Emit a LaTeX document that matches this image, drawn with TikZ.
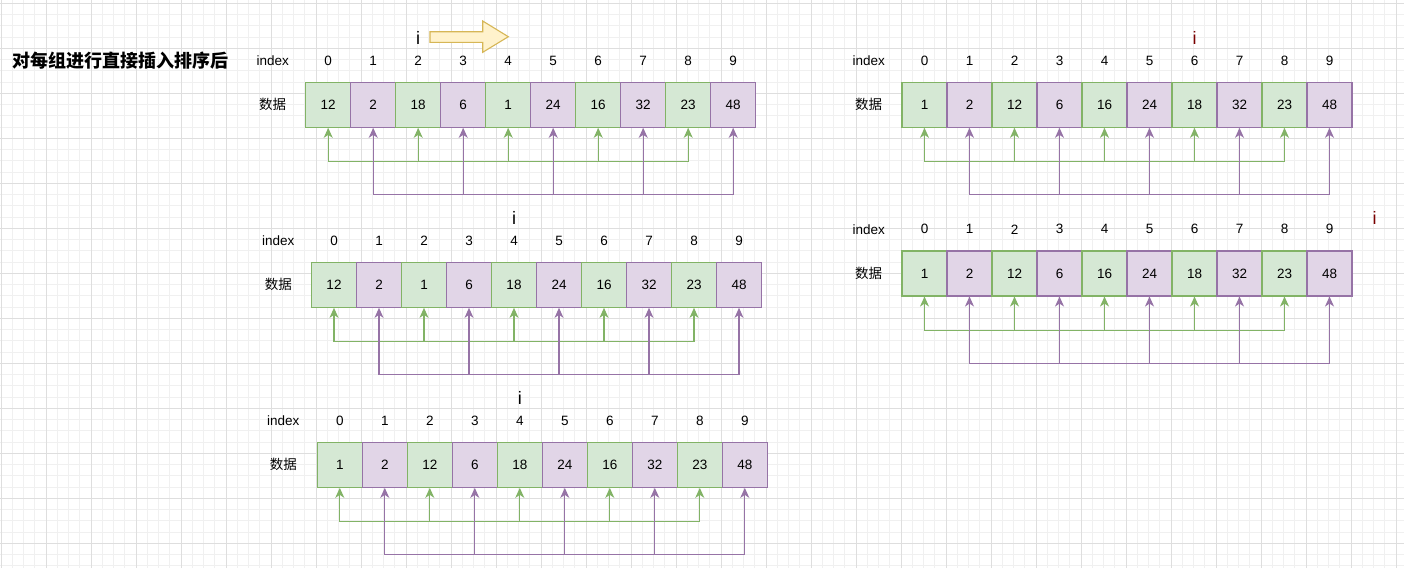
\documentclass[tikz,border=0pt]{standalone}
\usepackage{fontspec}
\setmainfont{Liberation Sans}
\newfontfamily\cjk{Noto Sans CJK SC}
\usetikzlibrary{arrows.meta}
\definecolor{gfill}{HTML}{D5E8D4}
\definecolor{gdraw}{HTML}{82B366}
\definecolor{pfill}{HTML}{E1D5E7}
\definecolor{pdraw}{HTML}{9673A6}
\definecolor{yfill}{HTML}{FFF2CC}
\definecolor{ydraw}{HTML}{D6B656}
\definecolor{imark}{HTML}{7A0000}
\tikzset{
  cell0/.style={rectangle,draw=gdraw,fill=gfill,line width=1.1pt,minimum size=45pt,inner sep=0pt,font=\fontsize{13.5}{16}\selectfont},
  cell1/.style={cell0,draw=pdraw,fill=pfill},
  lbl/.style={inner sep=0pt,font=\fontsize{13.5}{16}\selectfont},
  cjklbl/.style={inner sep=0pt,font=\cjk\fontsize{13.5}{16}\selectfont},
  ilbl/.style={inner sep=0pt,font=\fontsize{18}{20}\selectfont},
  garrow/.style={draw=gdraw,line width=1.1pt,-{Stealth[length=10pt,width=9pt,inset=3pt]}},
  parrow/.style={garrow,draw=pdraw},
  gline/.style={draw=gdraw,line width=1.1pt,line cap=rect},
  pline/.style={gline,draw=pdraw},
  minorgrid/.style={draw=black!6,line width=0.8pt},
  majorgrid/.style={draw=black!13,line width=0.8pt},
  bigarrow/.style={draw=ydraw,fill=yfill,line width=1.1pt}
}

\begin{document}
\begin{tikzpicture}[x=1pt,y=-1pt]
\useasboundingbox[fill=white] (0,0) rectangle (1404,568);
% background grid
\foreach \n in {0,...,124} \draw[minorgrid] (1+11.25*\n,0) -- (1+11.25*\n,568);
\foreach \n in {0,...,50} \draw[minorgrid] (0,3.3+11.25*\n) -- (1404,3.3+11.25*\n);
\foreach \n in {0,...,31} \draw[majorgrid] (1+45*\n,0) -- (1+45*\n,568);
\foreach \n in {0,...,12} \draw[majorgrid] (0,3.3+45*\n) -- (1404,3.3+45*\n);

\node[anchor=west,inner sep=0pt,font=\cjk\bfseries\fontsize{18}{20}\selectfont] (title) at (12.7,60.7) {对每组进行直接插入排序后};

% row 1
\node[lbl] (r1index) at (272.7,60.7) {index};
\node[cjklbl] (r1data) at (272.7,104.8) {数据};
\foreach \v [count=\k from 0] in {12,2,18,6,1,24,16,32,23,48} {
  \pgfmathtruncatemacro\p{mod(\k,2)}
  \node[cell\p] (r1c\k) at (328.2+45*\k,104.8) {\v};
  \node[lbl] (r1n\k) at (328.2+45*\k,60.7) {\k};
}
\node[ilbl] (r1i) at (418.2,38) {i};
\draw[bigarrow] (430,31.7) -- (482.7,31.7) -- (482.7,21) -- (508.3,36.7)
  -- (482.7,52.3) -- (482.7,42.3) -- (430,42.3) -- cycle;
\draw[gline] ([yshift=-33.7pt]r1c0.south) -- ([yshift=-33.7pt]r1c8.south);
\foreach \k in {0,2,...,8} \draw[garrow] ([yshift=-33.7pt]r1c\k.south) -- (r1c\k.south);
\draw[pline] ([yshift=-67pt]r1c1.south) -- ([yshift=-67pt]r1c9.south);
\foreach \k in {1,3,...,9} \draw[parrow] ([yshift=-67pt]r1c\k.south) -- (r1c\k.south);

% row 2
\node[lbl] (r2index) at (278.3,240.7) {index};
\node[cjklbl] (r2data) at (278.3,284.8) {数据};
\foreach \v [count=\k from 0] in {12,2,1,6,18,24,16,32,23,48} {
  \pgfmathtruncatemacro\p{mod(\k,2)}
  \node[cell\p] (r2c\k) at (334+45*\k,284.8) {\v};
  \node[lbl] (r2n\k) at (334+45*\k,240.7) {\k};
}
\node[ilbl] (r2i) at (514,218.3) {i};
\draw[gline] ([yshift=-33.7pt]r2c0.south) -- ([yshift=-33.7pt]r2c8.south);
\foreach \k in {0,2,...,8} \draw[garrow] ([yshift=-33.7pt]r2c\k.south) -- (r2c\k.south);
\draw[pline] ([yshift=-67pt]r2c1.south) -- ([yshift=-67pt]r2c9.south);
\foreach \k in {1,3,...,9} \draw[parrow] ([yshift=-67pt]r2c\k.south) -- (r2c\k.south);

% row 3
\node[lbl] (r3index) at (283.3,420.7) {index};
\node[cjklbl] (r3data) at (283.3,464.8) {数据};
\foreach \v [count=\k from 0] in {1,2,12,6,18,24,16,32,23,48} {
  \pgfmathtruncatemacro\p{mod(\k,2)}
  \node[cell\p] (r3c\k) at (339.8+45*\k,464.8) {\v};
  \node[lbl] (r3n\k) at (339.8+45*\k,420.7) {\k};
}
\node[ilbl] (r3i) at (519.8,398.3) {i};
\draw[gline] ([yshift=-33.7pt]r3c0.south) -- ([yshift=-33.7pt]r3c8.south);
\foreach \k in {0,2,...,8} \draw[garrow] ([yshift=-33.7pt]r3c\k.south) -- (r3c\k.south);
\draw[pline] ([yshift=-67pt]r3c1.south) -- ([yshift=-67pt]r3c9.south);
\foreach \k in {1,3,...,9} \draw[parrow] ([yshift=-67pt]r3c\k.south) -- (r3c\k.south);

% row 4
\node[lbl] (r4index) at (868.7,60.7) {index};
\node[cjklbl] (r4data) at (868.7,104.8) {数据};
\foreach \v [count=\k from 0] in {1,2,12,6,16,24,18,32,23,48} {
  \pgfmathtruncatemacro\p{mod(\k,2)}
  \node[cell\p] (r4c\k) at (924.5+45*\k,104.8) {\v};
  \node[lbl] (r4n\k) at (924.5+45*\k,60.7) {\k};
}
\node[ilbl,text=imark] (r4i) at (1194.5,38.3) {i};
\draw[gline] ([yshift=-33.7pt]r4c0.south) -- ([yshift=-33.7pt]r4c8.south);
\foreach \k in {0,2,...,8} \draw[garrow] ([yshift=-33.7pt]r4c\k.south) -- (r4c\k.south);
\draw[pline] ([yshift=-67pt]r4c1.south) -- ([yshift=-67pt]r4c9.south);
\foreach \k in {1,3,...,9} \draw[parrow] ([yshift=-67pt]r4c\k.south) -- (r4c\k.south);

% row 5
\node[lbl] (r5index) at (868.7,229.3) {index};
\node[cjklbl] (r5data) at (868.7,273.5) {数据};
\foreach \v [count=\k from 0] in {1,2,12,6,16,24,18,32,23,48} {
  \pgfmathtruncatemacro\p{mod(\k,2)}
  \node[cell\p] (r5c\k) at (924.5+45*\k,273.5) {\v};
  \node[lbl] (r5n\k) at (924.5+45*\k,229.3) {\k};
}
\node[ilbl,text=imark] (r5i) at (1374.5,218.3) {i};
\draw[gline] ([yshift=-33.7pt]r5c0.south) -- ([yshift=-33.7pt]r5c8.south);
\foreach \k in {0,2,...,8} \draw[garrow] ([yshift=-33.7pt]r5c\k.south) -- (r5c\k.south);
\draw[pline] ([yshift=-67pt]r5c1.south) -- ([yshift=-67pt]r5c9.south);
\foreach \k in {1,3,...,9} \draw[parrow] ([yshift=-67pt]r5c\k.south) -- (r5c\k.south);
\end{tikzpicture}
\end{document}
